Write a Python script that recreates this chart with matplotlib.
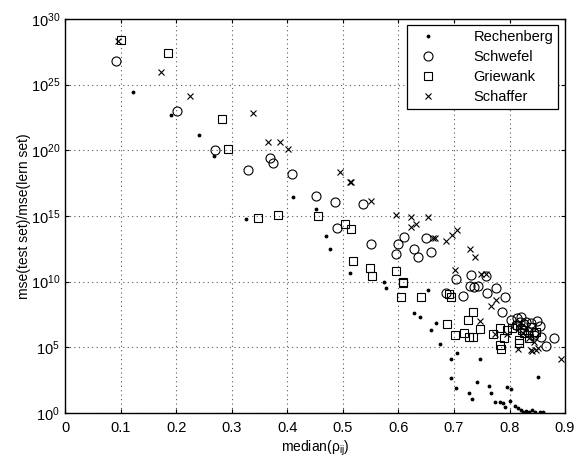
import numpy as np
import matplotlib
matplotlib.use("Agg")
import matplotlib.pyplot as plt

plt.rcParams["font.family"] = ["Liberation Sans", "DejaVu Sans"]
plt.rcParams["mathtext.fontset"] = "custom"
plt.rcParams["mathtext.rm"] = "Liberation Sans"
plt.rcParams["mathtext.it"] = "Liberation Sans:italic"
plt.rcParams["mathtext.default"] = "regular"

# x = median(rho_ij), values are log10 of mse(test)/mse(lern)
rech_x = [0.122, 0.191, 0.241, 0.268, 0.326, 0.410, 0.451, 0.470, 0.476, 0.512,
          0.574, 0.578, 0.653, 0.628, 0.638, 0.667, 0.658, 0.674, 0.706, 0.695,
          0.747, 0.694, 0.703, 0.742, 0.727, 0.733, 0.763, 0.766, 0.774, 0.783,
          0.789, 0.796, 0.802, 0.800, 0.792, 0.810, 0.815, 0.851, 0.820, 0.825,
          0.830, 0.835, 0.840, 0.845, 0.855, 0.860]
rech_log = [24.45, 22.7, 21.15, 19.6, 14.8, 16.45, 15.55, 13.5, 12.47, 10.64,
            10.0, 9.54, 9.37, 7.64, 7.29, 6.88, 6.32, 5.26, 4.59, 4.09,
            4.09, 2.69, 1.88, 2.38, 1.5, 1.04, 2.03, 1.5, 0.86, 0.84,
            0.79, 2.0, 1.8, 0.94, 0.43, 0.53, 0.4, 2.77, 0.2, 0.1,
            0.15, 0.05, 0.2, 0.1, 0.05, 0.1]

schw_x = [0.092, 0.201, 0.270, 0.330, 0.369, 0.375, 0.408, 0.452, 0.485, 0.536,
          0.490, 0.551, 0.610, 0.600, 0.596, 0.628, 0.635, 0.649, 0.659, 0.703,
          0.730, 0.729, 0.736, 0.744, 0.757, 0.775, 0.792, 0.686, 0.716, 0.760,
          0.786, 0.803, 0.813, 0.821, 0.829, 0.838, 0.850, 0.855, 0.866, 0.880,
          0.856, 0.844, 0.820, 0.811, 0.834, 0.844, 0.826, 0.818]
schw_log = [26.76, 23.0, 20.03, 18.53, 19.42, 19.02, 18.22, 16.53, 16.1, 15.9,
            14.07, 12.9, 13.43, 12.85, 12.09, 12.47, 11.9, 13.35, 12.26, 10.2,
            10.5, 9.67, 9.57, 9.67, 10.4, 9.5, 8.81, 9.12, 8.91, 9.12,
            7.67, 7.08, 7.2, 7.33, 6.95, 6.82, 7.03, 6.63, 5.1, 5.69,
            5.81, 6.07, 6.45, 6.7, 6.19, 5.94, 6.8, 6.9]

grie_x = [0.101, 0.186, 0.283, 0.293, 0.347, 0.383, 0.456, 0.503, 0.515, 0.518,
          0.548, 0.553, 0.596, 0.608, 0.609, 0.605, 0.641, 0.694, 0.691, 0.735,
          0.726, 0.688, 0.701, 0.718, 0.727, 0.735, 0.747, 0.771, 0.783, 0.790,
          0.783, 0.784, 0.796, 0.814, 0.817, 0.817, 0.838, 0.847, 0.826, 0.835,
          0.805, 0.822]
grie_log = [28.41, 27.4, 22.37, 20.1, 14.87, 15.08, 15.03, 14.39, 14.04, 11.6,
            11.07, 10.46, 10.84, 9.88, 9.95, 8.86, 8.81, 8.81, 9.04, 7.67,
            7.08, 6.76, 5.94, 6.12, 5.81, 5.76, 6.37, 6.02, 6.45, 5.69,
            5.18, 4.85, 6.32, 6.7, 5.56, 5.31, 6.57, 6.19, 6.07, 5.69,
            6.45, 6.3]

scha_x = [0.095, 0.173, 0.224, 0.338, 0.365, 0.386, 0.401, 0.495, 0.512, 0.514,
          0.551, 0.596, 0.623, 0.653, 0.622, 0.631, 0.662, 0.665, 0.686, 0.697,
          0.705, 0.729, 0.737, 0.701, 0.748, 0.757, 0.767, 0.775, 0.746, 0.774,
          0.796, 0.815, 0.838, 0.841, 0.847, 0.851, 0.892, 0.820, 0.825, 0.844,
          0.835]
scha_log = [28.28, 25.92, 24.09, 22.82, 20.66, 20.66, 20.08, 18.38, 17.62, 17.55,
            16.17, 15.08, 14.95, 14.9, 14.19, 14.39, 13.3, 13.3, 13.12, 13.56,
            13.94, 12.47, 11.9, 10.89, 10.59, 10.59, 8.15, 8.6, 7.03, 5.99,
            5.99, 4.85, 4.8, 4.74, 4.8, 4.97, 4.09, 6.57, 6.07, 5.43,
            5.69]

fig = plt.figure(figsize=(5.76, 4.59), dpi=100)
ax = fig.add_axes([0.113, 0.100, 0.868, 0.859])

ax.semilogy(rech_x, 10.0 ** np.array(rech_log), "k.", markersize=3.5,
            label="Rechenberg")
ax.semilogy(schw_x, 10.0 ** np.array(schw_log), "o", mfc="none", mec="k",
            mew=0.8, markersize=6.5, label="Schwefel")
ax.semilogy(grie_x, 10.0 ** np.array(grie_log), "s", mfc="none", mec="k",
            mew=0.8, markersize=5.5, label="Griewank")
ax.semilogy(scha_x, 10.0 ** np.array(scha_log), "x", color="k",
            mew=0.8, markersize=5, label="Schaffer")

ax.set_xlim(0, 0.9)
ax.set_ylim(1, 1e30)
ax.set_xticks(np.arange(0, 0.91, 0.1))
ax.set_xticklabels(["0", "0.1", "0.2", "0.3", "0.4", "0.5", "0.6", "0.7", "0.8", "0.9"])
ax.set_yticks([10.0 ** k for k in range(0, 31, 5)])
ax.minorticks_off()
ax.tick_params(direction="in", top=True, right=True, labelsize=10.5, length=3,
               width=0.8, colors="k")
ax.tick_params(axis="x", pad=6)
ax.grid(True, linestyle=(0, (1, 3)), color="0.35", linewidth=0.8)
for s in ax.spines.values():
    s.set_linewidth(1.0)

ax.set_xlabel(r"median($\rho_{ij}$)", fontsize=10, labelpad=2)
ax.set_ylabel("mse(test set)/mse(lern set)", fontsize=10, labelpad=0)

leg = ax.legend(loc="upper right", fontsize=10.5, fancybox=False, framealpha=1,
                edgecolor="k", borderaxespad=0.45, handletextpad=2.0,
                handlelength=2.2, labelspacing=0.4, borderpad=0.35,
                markerfirst=True)
leg.get_frame().set_linewidth(0.9)

fig.savefig("out.png", dpi=100)
